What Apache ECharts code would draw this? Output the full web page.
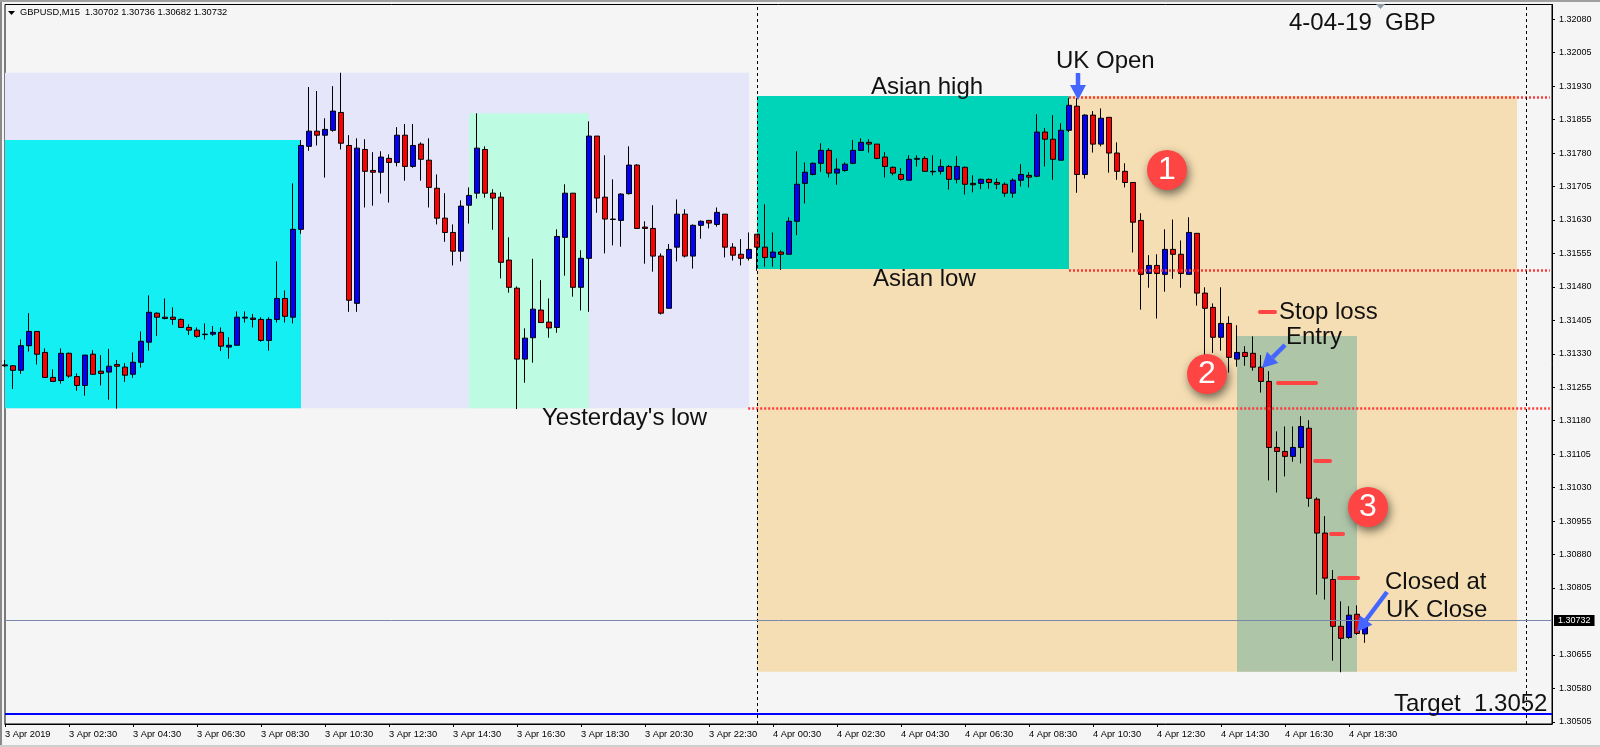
<!DOCTYPE html>
<html>
<head>
<meta charset="utf-8">
<style>html,body{margin:0;padding:0;background:#F5F5F5;overflow:hidden}#c{width:1600px;height:747px}</style>
<script src="https://cdn.jsdelivr.net/npm/echarts@6/dist/echarts.min.js"></script>
</head>
<body>
<div id="c"></div>
<script>
const opens = [
1.31305,1.31303,1.31293,1.31348,1.31380,1.31333,1.31277,1.31270,1.31331,1.31279,
1.31259,1.31329,1.31291,1.31289,1.31306,1.31300,1.31284,1.31311,1.31356,1.31421,
1.31412,1.31412,1.31407,1.31389,1.31383,1.31374,1.31374,1.31378,1.31345,1.31349,
1.31410,1.31410,1.31407,1.31360,1.31407,1.31454,1.31412,1.31609,1.31795,1.31829,
1.31820,1.31831,1.31871,1.31797,1.31443,1.31788,1.31741,1.31737,1.31768,1.31759,
1.31820,1.31750,1.31800,1.31764,1.31701,1.31634,1.31602,1.31560,1.31663,1.31690,
1.31788,1.31690,1.31681,1.31540,1.31477,1.31318,1.31366,1.31428,1.31401,1.31389,
1.31591,1.31690,1.31479,1.31544,1.31818,1.31681,1.31632,1.31629,1.31689,1.31753,
1.31614,1.31611,1.31549,1.31432,1.31569,1.31643,1.31549,1.31618,1.31629,1.31620,
1.31643,1.31569,1.31553,1.31544,1.31598,1.31569,1.31546,1.31558,1.31553,1.31627,
1.31712,1.31732,1.31757,1.31786,1.31735,1.31741,1.31757,1.31786,1.31804,1.31800,
1.31771,1.31748,1.31732,1.31719,1.31766,1.31768,1.31739,1.31739,1.31750,1.31721,
1.31748,1.31712,1.31712,1.31721,1.31714,1.31710,1.31690,1.31719,1.31730,1.31728,
1.31827,1.31811,1.31764,1.31831,1.31885,1.31732,1.31865,1.31800,1.31860,1.31780,
1.31739,1.31714,1.31629,1.31510,1.31528,1.31508,1.31564,1.31553,1.31508,1.31600,
1.31466,1.31434,1.31367,1.31398,1.31318,1.31333,1.31331,1.31300,1.31268,1.31120,
1.31111,1.31100,1.31120,1.31163,1.31004,1.30928,1.30824,1.30719,1.30694,1.30746,
1.30702];
const closes = [
1.31303,1.31293,1.31348,1.31380,1.31329,1.31277,1.31268,1.31331,1.31280,1.31259,
1.31327,1.31284,1.31286,1.31302,1.31302,1.31282,1.31311,1.31358,1.31423,1.31412,
1.31409,1.31407,1.31389,1.31383,1.31369,1.31373,1.31378,1.31347,1.31349,1.31412,
1.31412,1.31407,1.31360,1.31407,1.31454,1.31414,1.31609,1.31797,1.31829,1.31820,
1.31833,1.31874,1.31802,1.31450,1.31791,1.31739,1.31737,1.31771,1.31759,1.31820,
1.31750,1.31797,1.31766,1.31703,1.31634,1.31602,1.31560,1.31661,1.31685,1.31791,
1.31690,1.31679,1.31535,1.31479,1.31318,1.31365,1.31430,1.31400,1.31388,1.31593,
1.31690,1.31479,1.31544,1.31818,1.31679,1.31632,1.31631,1.31688,1.31753,1.31611,
1.31611,1.31549,1.31421,1.31564,1.31643,1.31549,1.31618,1.31627,1.31623,1.31647,
1.31569,1.31551,1.31544,1.31564,1.31569,1.31546,1.31558,1.31553,1.31627,1.31710,
1.31737,1.31757,1.31786,1.31735,1.31744,1.31755,1.31786,1.31804,1.31800,1.31768,
1.31750,1.31735,1.31721,1.31766,1.31768,1.31739,1.31738,1.31750,1.31721,1.31750,
1.31710,1.31709,1.31721,1.31714,1.31710,1.31690,1.31719,1.31732,1.31726,1.31827,
1.31811,1.31766,1.31831,1.31887,1.31732,1.31865,1.31800,1.31858,1.31780,1.31739,
1.31714,1.31625,1.31508,1.31528,1.31510,1.31564,1.31553,1.31510,1.31602,1.31466,
1.31432,1.31367,1.31398,1.31322,1.31333,1.31324,1.31300,1.31268,1.31120,1.31111,
1.31100,1.31120,1.31167,1.31006,1.30928,1.30827,1.30719,1.30692,1.30744,1.30703,
1.30732];
const highs = [
1.31316,1.31304,1.31362,1.31421,1.31380,1.31342,1.31295,1.31342,1.31333,1.31286,
1.31327,1.31338,1.31327,1.31341,1.31316,1.31309,1.31333,1.31380,1.31461,1.31423,
1.31454,1.31434,1.31409,1.31396,1.31389,1.31398,1.31392,1.31389,1.31367,1.31425,
1.31425,1.31419,1.31412,1.31412,1.31537,1.31472,1.31712,1.31809,1.31928,1.31919,
1.31858,1.31930,1.31960,1.31820,1.31813,1.31811,1.31782,1.31784,1.31777,1.31838,
1.31845,1.31845,1.31804,1.31813,1.31732,1.31690,1.31620,1.31674,1.31703,1.31869,
1.31795,1.31699,1.31692,1.31591,1.31481,1.31387,1.31543,1.31495,1.31454,1.31609,
1.31710,1.31690,1.31562,1.31851,1.31818,1.31775,1.31721,1.31690,1.31795,1.31755,
1.31627,1.31663,1.31555,1.31576,1.31676,1.31654,1.31620,1.31629,1.31629,1.31658,
1.31643,1.31578,1.31587,1.31602,1.31598,1.31665,1.31602,1.31562,1.31636,1.31784,
1.31759,1.31759,1.31802,1.31791,1.31768,1.31759,1.31809,1.31813,1.31811,1.31800,
1.31782,1.31750,1.31746,1.31775,1.31775,1.31773,1.31775,1.31766,1.31753,1.31773,
1.31750,1.31730,1.31723,1.31723,1.31723,1.31714,1.31723,1.31755,1.31737,1.31867,
1.31836,1.31865,1.31847,1.31903,1.31903,1.31867,1.31874,1.31880,1.31860,1.31804,
1.31757,1.31714,1.31645,1.31551,1.31553,1.31609,1.31631,1.31584,1.31636,1.31600,
1.31479,1.31443,1.31479,1.31414,1.31394,1.31347,1.31369,1.31327,1.31291,1.31156,
1.31167,1.31167,1.31190,1.31181,1.31008,1.30966,1.30845,1.30775,1.30764,1.30766,
1.30736];
const lows = [
1.31300,1.31251,1.31285,1.31335,1.31306,1.31277,1.31268,1.31263,1.31276,1.31247,
1.31236,1.31284,1.31259,1.31227,1.31207,1.31267,1.31276,1.31299,1.31337,1.31370,
1.31407,1.31395,1.31389,1.31372,1.31366,1.31362,1.31370,1.31336,1.31319,1.31349,
1.31400,1.31389,1.31357,1.31337,1.31400,1.31400,1.31398,1.31599,1.31785,1.31797,
1.31725,1.31828,1.31788,1.31424,1.31424,1.31658,1.31662,1.31689,1.31669,1.31750,
1.31718,1.31747,1.31718,1.31658,1.31620,1.31581,1.31528,1.31537,1.31622,1.31678,
1.31680,1.31608,1.31499,1.31467,1.31206,1.31265,1.31310,1.31400,1.31366,1.31377,
1.31505,1.31458,1.31427,1.31424,1.31646,1.31555,1.31573,1.31570,1.31687,1.31611,
1.31532,1.31514,1.31418,1.31432,1.31537,1.31546,1.31521,1.31588,1.31611,1.31615,
1.31546,1.31539,1.31528,1.31539,1.31516,1.31525,1.31525,1.31518,1.31553,1.31596,
1.31667,1.31730,1.31738,1.31725,1.31709,1.31738,1.31755,1.31786,1.31781,1.31766,
1.31725,1.31730,1.31718,1.31719,1.31750,1.31739,1.31730,1.31732,1.31698,1.31712,
1.31687,1.31692,1.31699,1.31700,1.31699,1.31682,1.31680,1.31705,1.31703,1.31726,
1.31750,1.31720,1.31764,1.31827,1.31691,1.31723,1.31781,1.31795,1.31736,1.31720,
1.31703,1.31557,1.31429,1.31478,1.31409,1.31469,1.31498,1.31478,1.31508,1.31438,
1.31325,1.31332,1.31337,1.31288,1.31301,1.31303,1.31292,1.31243,1.31046,1.31019,
1.31055,1.31088,1.31084,1.30987,1.30790,1.30779,1.30642,1.30616,1.30691,1.30700,
1.30682];

const timeLabels = ['3 Apr 2019','3 Apr 02:30','3 Apr 04:30','3 Apr 06:30','3 Apr 08:30','3 Apr 10:30','3 Apr 12:30','3 Apr 14:30','3 Apr 16:30','3 Apr 18:30','3 Apr 20:30','3 Apr 22:30','4 Apr 00:30','4 Apr 02:30','4 Apr 04:30','4 Apr 06:30','4 Apr 08:30','4 Apr 10:30','4 Apr 12:30','4 Apr 14:30','4 Apr 16:30','4 Apr 18:30'];
const barsPerLabel = 8;
const priceTicks = [1.32080,1.32005,1.31930,1.31855,1.31780,1.31705,1.31630,1.31555,1.31480,1.31405,1.31330,1.31255,1.31180,1.31105,1.31030,1.30955,1.30880,1.30805,1.30655,1.30580,1.30505];
const lastPrice = 1.30732;
const targetPrice = 1.30523;
const asianHigh = 1.31908, asianLow = 1.31520, yesterdayLow = 1.31208, yesterdayHigh = 1.31960, boxBottom = 1.30617;

// bar-index / price zones, back to front
const zones = [
  {from:0,  to:93,  top:yesterdayHigh, bottom:yesterdayLow, color:'#E5E6FA'},
  {from:0,  to:37,  top:1.31809,       bottom:yesterdayLow, color:'#13EFF3'},
  {from:58, to:73,  top:1.31869,       bottom:yesterdayLow, color:'#BDFBE2'},
  {from:94, to:189, top:asianHigh,     bottom:boxBottom,    color:'#F5DEB3'},
  {from:94, to:133, top:asianHigh,     bottom:asianLow,     color:'#00D4B8'},
  {from:154,to:169, top:1.31370,       bottom:boxBottom,    color:'#AFC5A8'}
];
const levels = [
  {from:133, to:193.1, price:1.31906,     color:'#FF3838', width:2.5, dash:[2,2]},
  {from:133, to:193.1, price:1.31518,     color:'#FF3838', width:2.5, dash:[2,2]},
  {from:92.9,to:193.1, price:yesterdayLow,color:'#FF3838', width:2.5, dash:[2,2]},
  {from:0,   to:193.375, price:targetPrice, color:'#0000FF', width:2, dash:'solid'}
];
const sessionBars = [94, 190.1];
const xMax = 193.375, yMin = 1.3050, yMax = 1.32113;

const texts = [
  ['4-04-19  GBP',1289,23],['UK Open',1056,61.5],['Asian high',871,87],['Asian low',873,279],
  ["Yesterday's low",542,418],['Stop loss',1279,312],['Entry',1286,337],
  ['Closed at',1385,582],['UK Close',1386,610],['Target  1.3052',1394,704]
];
const arrows = [[1078,73,1078,100],[1285,345,1262,368],[1387,592,1357,632]];
const dashes = [[1260,312,1275,312],[1278,383,1316,383],[1315,461,1330,461],[1331,534,1343,534],[1339,578,1358,578]];
const badges = [['1',1167,170],['2',1207,374],['3',1368,507]];

const candleData = opens.map((o,i)=>[i,o,closes[i],lows[i],highs[i]]);
const xTicks = timeLabels.map((_,i)=>i*barsPerLabel);

const graphic = [];
const BLUE = '#4466FF', RED='#FF4444';
graphic.push({type:'rect',z:50,shape:{x:0,y:0,width:2,height:747},style:{fill:'#8a8a8a'}});
graphic.push({type:'rect',z:50,shape:{x:0,y:0,width:1600,height:2},style:{fill:'#a0a0a0'}});
graphic.push({type:'rect',z:50,shape:{x:0,y:745,width:1600,height:2},style:{fill:'#cfcfcf'}});
graphic.push({type:'polygon',z:50,shape:{points:[[8,11],[15,11],[11.5,15]]},style:{fill:'#000'}});
graphic.push({type:'polygon',z:50,shape:{points:[[1376,4],[1385,4],[1380.5,9]]},style:{fill:'#8a9aa8'}});
graphic.push({type:'text',z:50,style:{text:'GBPUSD,M15  1.30702 1.30736 1.30682 1.30732',x:20,y:12.5,font:'9.3px "Liberation Sans"',fill:'#000',textVerticalAlign:'middle'}});
texts.forEach(t=>graphic.push({type:'text',z:60,style:{text:t[0],x:t[1],y:t[2],font:'24px "Liberation Sans"',fill:'#111',textVerticalAlign:'middle'}}));
dashes.forEach(d=>graphic.push({type:'line',z:55,shape:{x1:d[0],y1:d[1],x2:d[2],y2:d[3]},style:{stroke:RED,lineWidth:4,lineCap:'round'}}));
arrows.forEach(a=>{
  const dx=a[2]-a[0],dy=a[3]-a[1],L=Math.hypot(dx,dy),ux=dx/L,uy=dy/L,hl=15,hw=8;
  const bx=a[2]-ux*hl,by=a[3]-uy*hl;
  graphic.push({type:'line',z:55,shape:{x1:a[0],y1:a[1],x2:bx,y2:by},style:{stroke:BLUE,lineWidth:4.5}});
  graphic.push({type:'polygon',z:55,shape:{points:[[a[2],a[3]],[bx-uy*hw,by+ux*hw],[bx+uy*hw,by-ux*hw]]},style:{fill:BLUE}});
});
badges.forEach(b=>{
  graphic.push({type:'circle',z:56,shape:{cx:b[1],cy:b[2],r:20},style:{fill:RED,shadowBlur:10,shadowColor:'rgba(0,0,0,0.55)',shadowOffsetX:2,shadowOffsetY:4}});
  graphic.push({type:'text',z:57,style:{text:b[0],x:b[1],y:b[2],font:'32px "Liberation Sans"',fill:'#fff',textAlign:'center',textVerticalAlign:'middle'}});
});

const chart = echarts.init(document.getElementById('c'),null,{renderer:'canvas',width:1600,height:747});
chart.setOption({
  animation:false,
  backgroundColor:'#F5F5F5',
  grid:{left:5,right:48,top:4.5,bottom:23,show:true,backgroundColor:'#F5F5F5',borderColor:'#000',borderWidth:1,containLabel:false},
  xAxis:{type:'value',min:0,max:xMax,splitLine:{show:false},
    axisLine:{onZero:false,lineStyle:{color:'#000'}},
    axisTick:{customValues:xTicks,length:3,lineStyle:{color:'#000'}},
    axisLabel:{customValues:xTicks,formatter:v=>timeLabels[Math.round(v/barsPerLabel)],align:'left',margin:6,color:'#000',fontFamily:'Liberation Sans',fontSize:9.3,showMinLabel:true,showMaxLabel:true}},
  yAxis:{type:'value',position:'right',min:yMin,max:yMax,scale:true,splitLine:{show:false},
    axisLine:{onZero:false,show:true,lineStyle:{color:'#000'}},
    axisTick:{show:true,customValues:priceTicks,length:3,lineStyle:{color:'#000'}},
    axisLabel:{customValues:priceTicks,formatter:v=>v.toFixed(5),margin:7,color:'#000',fontFamily:'Liberation Sans',fontSize:9,showMinLabel:true,showMaxLabel:true}},
  graphic:graphic,
  series:[{
    type:'candlestick',
    barWidth:5,
    data:candleData,
    encode:{x:0,y:[1,2,3,4]},
    itemStyle:{color:'#0000FF',color0:'#FF0000',borderColor:'#000',borderColor0:'#000',borderColorDoji:'#000',borderWidth:1},
    markArea:{silent:true,data:zones.map(z=>[
      {xAxis:z.from,yAxis:z.top,itemStyle:{color:z.color,opacity:1}},
      {xAxis:z.to,yAxis:z.bottom}
    ])},
    markLine:{silent:true,symbol:'none',animation:false,data:[
      ...levels.map(l=>[
        {coord:[l.from,l.price],label:{show:false},lineStyle:{color:l.color,width:l.width,type:l.dash}},
        {coord:[l.to,l.price]}
      ]),
      ...sessionBars.map(b=>[
        {coord:[b,yMin],label:{show:false},lineStyle:{color:'#000',width:1,type:[3,3]}},
        {coord:[b,yMax]}
      ]),
      [{coord:[0,lastPrice],lineStyle:{color:'#7788A8',width:1,type:'solid'},
        label:{show:true,position:'end',distance:2,formatter:lastPrice.toFixed(5),color:'#fff',backgroundColor:'#000',fontFamily:'Liberation Sans',fontSize:9,padding:[1,4,1,4]}},
       {coord:[xMax,lastPrice]}]
    ]}
  }]
});
</script>
</body>
</html>
